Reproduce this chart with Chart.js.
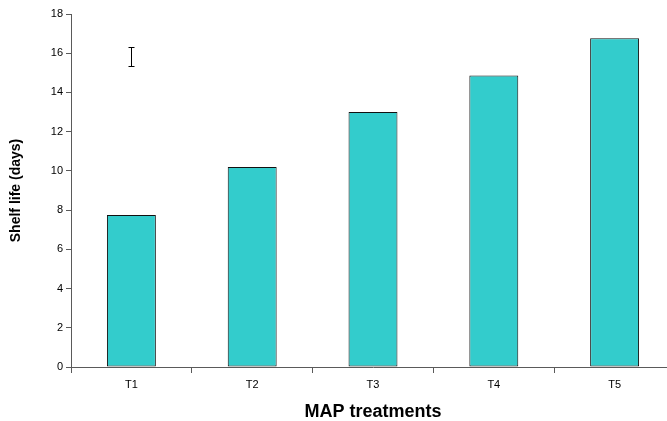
<!DOCTYPE html>
<html>
<head>
<meta charset="utf-8">
<script src="https://cdn.jsdelivr.net/npm/chart.js@4/dist/chart.umd.min.js"></script>
<style>
  html, body { margin: 0; padding: 0; background: #ffffff; overflow: hidden; }
  #wrap { width: 667px; height: 421px; overflow: hidden; position: relative; }
  canvas { display: block; }
</style>
</head>
<body>
<div id="wrap"><canvas id="c" width="690" height="421" style="width:690px;height:421px"></canvas></div>
<script>
// Shelf life of samples under each modified-atmosphere packaging treatment
const treatments = ['T1', 'T2', 'T3', 'T4', 'T5'];
const shelfLifeDays = [7.75, 10.2, 13.0, 14.87, 16.76];
const yTicks = [0, 2, 4, 6, 8, 10, 12, 14, 16, 18];

// Single standard-error whisker shown above the first treatment
const errorCategory = 'T1';
const errorLow = [15.35];
const errorHigh = [16.3];

const fontFamily = '"Liberation Sans", Arial, sans-serif';
const axisColor = '#5a5a5a';

const errorBarPlugin = {
  id: 'errorBar',
  afterDatasetsDraw(chart) {
    const xs = chart.scales.x, ys = chart.scales.y;
    const ctx = chart.ctx;
    const x = Math.round(xs.getPixelForValue(treatments.indexOf(errorCategory))) + 0.5;
    const y1 = Math.round(ys.getPixelForValue(errorHigh[0])) + 0.5;
    const y2 = Math.round(ys.getPixelForValue(errorLow[0])) + 0.5;
    ctx.save();
    ctx.strokeStyle = '#000000';
    ctx.lineWidth = 1;
    ctx.beginPath();
    ctx.moveTo(x, y1); ctx.lineTo(x, y2);
    ctx.moveTo(x - 3, y1); ctx.lineTo(x + 3, y1);
    ctx.moveTo(x - 3, y2); ctx.lineTo(x + 3, y2);
    ctx.stroke();
    ctx.restore();
  }
};

new Chart(document.getElementById('c'), {
  type: 'bar',
  data: {
    labels: treatments,
    datasets: [{
      data: shelfLifeDays,
      backgroundColor: '#33CCCC',
      borderColor: '#111111',
      borderWidth: 1,
      borderSkipped: false,
      barPercentage: 0.405,
      categoryPercentage: 1.0
    }]
  },
  options: {
    responsive: false,
    animation: false,
    layout: { padding: { top: 14, right: 15, bottom: 0, left: 0 } },
    plugins: { legend: { display: false }, tooltip: { enabled: false } },
    scales: {
      x: {
        offset: true,
        grid: { display: true, drawOnChartArea: false, drawTicks: true, tickLength: 6, offset: true, color: axisColor },
        border: { display: true, color: axisColor, width: 1 },
        ticks: { color: '#000000', padding: 5, font: { family: fontFamily, size: 11 } },
        title: { display: true, text: 'MAP treatments', color: '#000000', padding: { top: 0, bottom: -2 },
                 font: { family: fontFamily, size: 18, weight: 'bold' } },
        afterFit(scale) { scale.height = 54; }
      },
      y: {
        min: 0, max: 18,
        afterBuildTicks(scale) { scale.ticks = yTicks.map(v => ({ value: v })); },
        grid: { display: true, drawOnChartArea: false, drawTicks: true, tickLength: 5, color: axisColor },
        border: { display: true, color: axisColor, width: 1 },
        ticks: { color: '#000000', padding: 3, font: { family: fontFamily, size: 11 } },
        title: { display: true, text: 'Shelf life (days)', color: '#000000', padding: { top: 7.6, bottom: 0 },
                 font: { family: fontFamily, size: 14, weight: 'bold' } },
        afterFit(scale) { scale.width = 71; }
      }
    }
  },
  plugins: [errorBarPlugin]
});
</script>
</body>
</html>
